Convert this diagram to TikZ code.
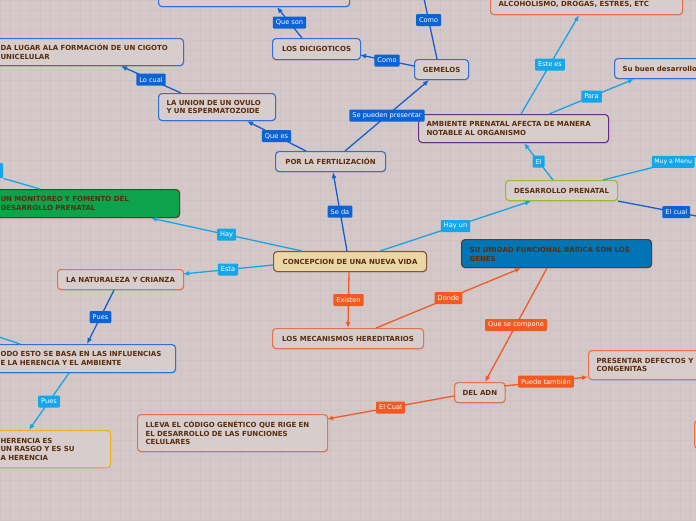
\documentclass[tikz,border=0pt]{standalone}
\usepackage{fontspec}
\setmainfont{DejaVu Sans}
\usetikzlibrary{arrows.meta,calc,shadows}
\definecolor{bg}{HTML}{D4C8C8}
\definecolor{gridc}{HTML}{CEC2C2}
\definecolor{nfill}{HTML}{D8CDCD}
\definecolor{txt}{HTML}{5A2D0C}
\definecolor{bbord}{HTML}{2F6FD6}
\definecolor{obord}{HTML}{E8704A}
\definecolor{pbord}{HTML}{6B2D86}
\definecolor{gbord}{HTML}{9BBB2F}
\definecolor{dbord}{HTML}{5C3A1E}
\definecolor{green1}{HTML}{0BA34C}
\definecolor{cbord}{HTML}{80582F}
\definecolor{cfill}{HTML}{EBD6A6}
\definecolor{ufill}{HTML}{0075B5}
\definecolor{ybord}{HTML}{F2B31F}
\definecolor{chipdb}{HTML}{0B63D6}
\definecolor{chiplb}{HTML}{14A8EA}
\definecolor{chipor}{HTML}{F4591F}
\definecolor{linedb}{HTML}{1560D0}
\definecolor{linelb}{HTML}{1AA3E6}
\definecolor{lineor}{HTML}{F05A28}
\begin{document}
\begin{tikzpicture}[x=1pt,y=-1pt,
  box/.style={draw, rounded corners=3.5pt, line width=1.1pt, fill=nfill, text=txt,
    font=\fontsize{7}{8.6}\selectfont\bfseries, inner xsep=8pt, inner ysep=0pt,
    anchor=north west, drop shadow={shadow xshift=0.5pt, shadow yshift=-1pt, opacity=0.25}},
  mbox/.style={align=left},
  chip/.style={text=white, font=\fontsize{6.6}{7.5}\selectfont, inner xsep=3pt, inner ysep=0pt,
    minimum height=12pt, rounded corners=1pt, draw=none},
  cdb/.style={chip, fill=chipdb},
  clb/.style={chip, fill=chiplb},
  cor/.style={chip, fill=chipor},
  ldb/.style={draw=linedb, line width=1.3pt},
  llb/.style={draw=linelb, line width=1.3pt},
  lor/.style={draw=lineor, line width=1.3pt},
  tip/.style={-{Latex[length=6pt,width=5pt]}}
]
\useasboundingbox (0,0) rectangle (696,520);
\clip (0,0) rectangle (696,520);
\fill[bg] (-5,-5) rectangle (701,525);
\foreach \i in {0,10,...,700} \draw[gridc, line width=0.35pt] (\i,0) -- (\i,520);
\foreach \j in {0,10,...,520} \draw[gridc, line width=0.35pt] (0,\j) -- (696,\j);

% nodes
\node[box, draw=bbord, minimum width=191pt, minimum height=26pt] (top) at (158,-20) {};
\node[box, draw=bbord, minimum width=88pt, minimum height=21pt] (dicig) at (272,38) {LOS DICIGOTICOS};
\node[box, draw=bbord, minimum width=54pt, minimum height=20pt] (gemelos) at (414,59) {GEMELOS};
\node[box, draw=obord, mbox, text width=176pt, minimum height=20pt] (alcohol) at (490,-6) {ALCOHOLISMO, DROGAS, ESTRES, ETC};
\node[box, draw=bbord, mbox, text width=80pt, minimum height=20pt] (sudes) at (614,58) {Su buen desarrollo};
\node[box, draw=bbord, mbox, text width=175pt, minimum height=27pt] (dalugar) at (-8,38) {DA LUGAR ALA FORMACIÓN DE UN CIGOTO\\UNICELULAR};
\node[box, draw=bbord, mbox, text width=101pt, minimum height=27pt] (union) at (158,93) {LA UNION DE UN OVULO\\Y UN ESPERMATOZOIDE};
\node[box, draw=pbord, mbox, text width=174pt, minimum height=28pt] (ambiente) at (418,114) {AMBIENTE PRENATAL AFECTA DE MANERA\\NOTABLE AL ORGANISMO};
\node[box, draw=bbord, minimum width=110pt, minimum height=20pt] (fert) at (275,151) {POR LA FERTILIZACIÓN};
\node[box, draw=gbord, minimum width=112pt, minimum height=20pt] (desp) at (505,180) {DESARROLLO PRENATAL};
\node[box, draw=dbord, fill=green1, mbox, text width=171pt, minimum height=28pt] (monit) at (-8,189) {UN MONITOREO Y FOMENTO DEL\\DESARROLLO PRENATAL};
\node[box, draw=cbord, fill=cfill, minimum width=153pt, minimum height=20pt] (conc) at (273,251) {CONCEPCION DE UNA NUEVA VIDA};
\node[box, draw=dbord, fill=ufill, mbox, text width=174pt, minimum height=28pt] (unidad) at (461,239) {SU UNIDAD FUNCIONAL BÁSICA SON LOS\\GENES};
\node[box, draw=obord, minimum width=126pt, minimum height=20pt] (natur) at (57,269) {LA NATURALEZA Y CRIANZA};
\node[box, draw=obord, minimum width=151pt, minimum height=20pt] (mecan) at (272,328) {LOS MECANISMOS HEREDITARIOS};
\node[box, draw=bbord, mbox, text width=167pt, minimum height=28pt] (todo) at (-8,344) {ODO ESTO SE BASA EN LAS INFLUENCIAS\\E LA HERENCIA Y EL AMBIENTE};
\node[box, draw=obord, mbox, text width=106pt, minimum height=29pt] (present) at (588,350) {PRESENTAR DEFECTOS Y\\CONGENITAS};
\node[box, draw=obord, minimum width=50pt, minimum height=20pt] (adn) at (454,382) {DEL ADN};
\node[box, draw=obord, mbox, text width=174pt, minimum height=37pt] (lleva) at (137,414) {LLEVA EL CÓDIGO GENÉTICO QUE RIGE EN\\EL DESARROLLO DE LAS FUNCIONES\\CELULARES};
\node[box, draw=ybord, mbox, text width=102pt, minimum height=37pt] (heren) at (-8,430) {HERENCIA ES\\UN RASGO Y ES SU\\A HERENCIA};
\node[box, draw=obord, minimum width=26pt, minimum height=28pt] (rbox) at (694,420) {};
\node[clb, minimum width=13pt, minimum height=15pt, anchor=north west] (lchip) at (-10,163) {};

% connectors
\draw[ldb,tip] ($(dicig.north west)+(30,0)$) -- node[cdb]{Que son} ($(top.south west)+(119,0)$);
\coordinate (c2) at (423,-6);
\draw[ldb] ($(gemelos.north west)+(23,0)$) -- node[cdb,pos=0.6]{Como} (c2);
\draw[ldb,tip] ($(gemelos.north west)+(0,7)$) -- node[cdb]{Como} ($(dicig.north west)+(88,17)$);
\draw[ldb,tip] ($(fert.north west)+(70,0)$) -- node[cdb]{Se pueden presentar} ($(gemelos.south west)+(15,0)$);
\draw[ldb,tip] ($(fert.north west)+(31,0)$) -- node[cdb]{Que es} ($(union.south west)+(89,0)$);
\draw[ldb,tip] ($(union.north west)+(23,0)$) -- node[cdb]{Lo cual} ($(dalugar.south west)+(129,0)$);
\draw[llb,tip] ($(ambiente.north west)+(103,0)$) -- node[clb]{Este es} ($(alcohol.south west)+(89,0)$);
\draw[llb,tip] ($(ambiente.north west)+(131,0)$) -- node[clb]{Para} ($(sudes.south west)+(20,0)$);
\draw[llb,tip] ($(desp.north west)+(48,0)$) -- node[clb]{El} ($(ambiente.south west)+(106,0)$);
\coordinate (c10) at (710,153);
\draw[llb] ($(desp.north west)+(98,0)$) -- node[clb,pos=0.45,anchor=west,yshift=6pt,inner xsep=2.5pt,font=\fontsize{6.2}{7}\selectfont]{Muy a Menu} (c10);
\coordinate (c11) at (712,219);
\draw[ldb] (desp.south east) -- node[cdb,pos=0.62]{El cual} (c11);
\draw[llb,tip] ($(conc.north west)+(107,0)$) -- node[clb]{Hay un} ($(desp.south west)+(26,0)$);
\draw[ldb,tip] ($(conc.north west)+(74,0)$) -- node[cdb]{Se da} ($(fert.south west)+(58,0)$);
\draw[llb,tip] ($(conc.north west)+(29,0)$) -- node[clb]{Hay} ($(monit.south west)+(159,0)$);
\draw[llb,tip] ($(conc.north west)+(0,14)$) -- node[clb]{Esta} ($(natur.north west)+(126,5)$);
\draw[lor,tip] ($(conc.south west)+(76,0)$) -- node[cor]{Existen} ($(mecan.north west)+(76,0)$);
\draw[lor,tip] ($(mecan.north west)+(104,0)$) -- node[cor]{Donde} ($(unidad.south west)+(60,0)$);
\draw[lor,tip] ($(unidad.south west)+(86,0)$) -- node[cor]{Que se compone} ($(adn.north west)+(31,0)$);
\draw[lor,tip] ($(adn.north west)+(50,4)$) -- node[cor]{Puede también} ($(present.north west)+(0,27)$);
\draw[lor,tip] ($(adn.north west)+(0,14)$) -- node[cor]{El Cual} ($(lleva.north west)+(190,5)$);
\draw[ldb,tip] ($(natur.south west)+(57,0)$) -- node[cdb]{Pues} ($(todo.north west)+(95,0)$);
\draw[llb,tip] ($(todo.south west)+(77,0)$) -- node[clb]{Pues} ($(heren.north west)+(37,0)$);
\coordinate (c23) at (-10,334);
\draw[llb] ($(todo.north west)+(28,0)$) -- (c23);
\draw[llb] ($(monit.north west)+(48,0)$) -- (lchip.south east);
\end{tikzpicture}
\end{document}
